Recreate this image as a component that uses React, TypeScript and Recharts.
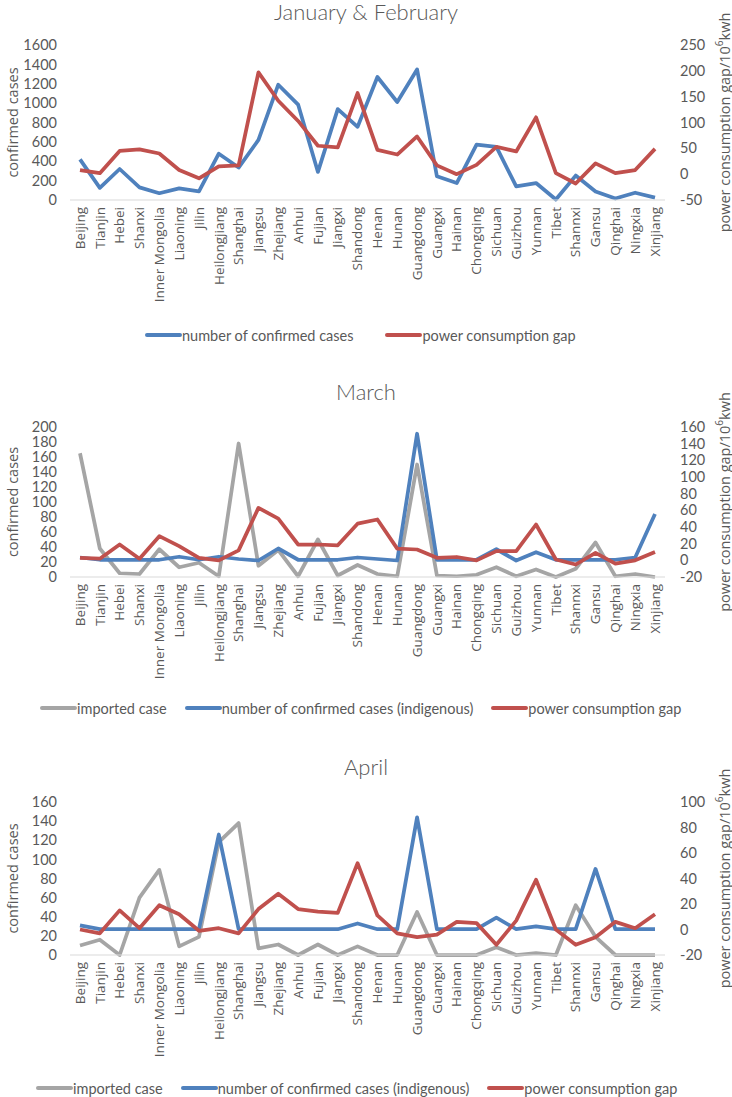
import { LineChart, Line, XAxis, YAxis, Legend, Label } from 'recharts'

// provinces on the category axis (same order in all three panels)
const PROVINCES = [
  'Beijing', 'Tianjin', 'Hebei', 'Shanxi', 'Inner Mongolia', 'Liaoning', 'Jilin',
  'Heilongjiang', 'Shanghai', 'Jiangsu', 'Zhejiang', 'Anhui', 'Fujian', 'Jiangxi',
  'Shandong', 'Henan', 'Hunan', 'Guangdong', 'Guangxi', 'Hainan', 'Chongqing',
  'Sichuan', 'Guizhou', 'Yunnan', 'Tibet', 'Shannxi', 'Gansu', 'Qinghai', 'Ningxia',
  'Xinjiang',
]

// January & February
const JAN_FEB_CASES = [420, 125, 320, 130, 70, 120, 90, 478, 335, 620, 1190, 985, 290, 938, 755, 1270, 1012, 1348, 245, 175, 572, 548, 140, 175, 5, 252, 88, 15, 75, 25]
const JAN_FEB_GAP = [8, 2, 45, 48, 40, 8, -8, 15, 17, 197, 142, 103, 55, 52, 157, 47, 38, 73, 17, 0, 18, 53, 44, 110, 2, -18, 21, 2, 8, 49]

// March
const MAR_IMPORTED = [165, 38, 5, 4, 37, 13, 19, 1, 178, 15, 36, 1, 50, 2, 16, 4, 1, 150, 2, 1, 3, 13, 1, 10, 0, 11, 46, 1, 4, 0]
const MAR_INDIGENOUS = [26, 23, 23, 23, 23, 27, 23, 27, 24, 22, 38, 23, 23, 23, 26, 24, 22, 191, 23, 23, 23, 37, 22, 33, 23, 23, 23, 23, 26, 84]
const MAR_GAP = [3, 2, 19, 2, 29, 17, 3, 0, 12, 63, 50, 19, 19, 18, 44, 49, 14, 13, 3, 4, 0, 11, 11, 43, 1, -5, 9, -4, 0, 10]

// April
const APR_IMPORTED = [10, 16, 0, 60, 89, 9, 19, 118, 138, 7, 11, 0, 11, 0, 9, 0, 0, 45, 0, 0, 0, 8, 0, 2, 0, 52, 19, 0, 0, 0]
const APR_INDIGENOUS = [31, 27, 27, 27, 27, 27, 27, 126, 27, 27, 27, 27, 27, 27, 33, 27, 27, 144, 27, 27, 27, 39, 27, 30, 27, 27, 90, 27, 27, 27]
const APR_GAP = [0, -3, 15, 1, 19, 12, -1, 1, -3, 16, 28, 16, 14, 13, 52, 11, -3, -6, -4, 6, 5, -12, 7, 39, 0, -12, -6, 6, 1, 12]

// axis ticks
const JAN_FEB_LEFT_TICKS = [0, 200, 400, 600, 800, 1000, 1200, 1400, 1600]
const JAN_FEB_RIGHT_TICKS = [-50, 0, 50, 100, 150, 200, 250]
const MAR_LEFT_TICKS = [0, 20, 40, 60, 80, 100, 120, 140, 160, 180, 200]
const MAR_RIGHT_TICKS = [-20, 0, 20, 40, 60, 80, 100, 120, 140, 160]
const APR_LEFT_TICKS = [0, 20, 40, 60, 80, 100, 120, 140, 160]
const APR_RIGHT_TICKS = [-20, 0, 20, 40, 60, 80, 100]

const TEXT = '#595959'
const BLUE = '#4F81BD'
const RED = '#C0504D'
const GRAY = '#A5A5A5'
const FONT_UI = "Lato, 'Open Sans', sans-serif"
const FONT_CAT = "'Open Sans', sans-serif"

interface SeriesDef {
  key: string
  name: string
  color: string
  axis: 'left' | 'right'
}

const janFebRows = PROVINCES.map((p, i) => ({ province: p, cases: JAN_FEB_CASES[i], gap: JAN_FEB_GAP[i] }))
const marRows = PROVINCES.map((p, i) => ({ province: p, imported: MAR_IMPORTED[i], indigenous: MAR_INDIGENOUS[i], gap: MAR_GAP[i] }))
const aprRows = PROVINCES.map((p, i) => ({ province: p, imported: APR_IMPORTED[i], indigenous: APR_INDIGENOUS[i], gap: APR_GAP[i] }))

const janFebSeries: SeriesDef[] = [
  { key: 'cases', name: 'number of confirmed cases', color: BLUE, axis: 'left' },
  { key: 'gap', name: 'power consumption gap', color: RED, axis: 'right' },
]
const laterSeries: SeriesDef[] = [
  { key: 'imported', name: 'imported case', color: GRAY, axis: 'left' },
  { key: 'indigenous', name: 'number of confirmed cases (indigenous)', color: BLUE, axis: 'left' },
  { key: 'gap', name: 'power consumption gap', color: RED, axis: 'right' },
]

function CategoryTick({ x, y, payload }: any) {
  return (
    <g transform={`translate(${x},${y})`}>
      <text
        transform="rotate(-90)"
        x={-5}
        y={0}
        dy="0.35em"
        textAnchor="end"
        fill={TEXT}
        fontSize={13.5}
        fontFamily={FONT_CAT}
      >
        {payload.value}
      </text>
    </g>
  )
}

const leftTitle = ({ viewBox }: any) => {
  const cx = viewBox.x + 12
  const cy = viewBox.y + viewBox.height / 2
  return (
    <text
      x={cx}
      y={cy}
      transform={`rotate(-90 ${cx} ${cy})`}
      textAnchor="middle"
      dominantBaseline="central"
      fill={TEXT}
      fontSize={14.5}
      fontFamily={FONT_CAT}
    >
      confirmed cases
    </text>
  )
}

const rightTitle = ({ viewBox }: any) => {
  const cx = viewBox.x + viewBox.width - 8
  const cy = viewBox.y + viewBox.height / 2
  return (
    <text
      x={cx}
      y={cy}
      transform={`rotate(-90 ${cx} ${cy})`}
      textAnchor="middle"
      dominantBaseline="central"
      fill={TEXT}
      fontSize={14.5}
      fontFamily={FONT_CAT}
    >
      power consumption gap/10
      <tspan dy={-5} fontSize={10}>6</tspan>
      <tspan dy={5}>kwh</tspan>
    </text>
  )
}

function LegendRow({ items, start, gap }: { items: SeriesDef[]; start: number; gap: number }) {
  return (
    <div
      style={{
        display: 'flex',
        alignItems: 'center',
        paddingLeft: start,
        height: 20,
        fontFamily: FONT_UI,
        fontSize: 14.5,
        color: TEXT,
        whiteSpace: 'nowrap',
      }}
    >
      {items.map((s, i) => (
        <div key={s.key} style={{ display: 'flex', alignItems: 'center', marginLeft: i ? gap : 0 }}>
          <span style={{ display: 'inline-block', width: 37, height: 4, borderRadius: 2, background: s.color }} />
          <span>{s.name}</span>
        </div>
      ))}
    </div>
  )
}

interface PanelProps {
  title: string
  top: number
  height: number
  titleY: number
  plotTop: number
  plotBottom: number
  legendY: number
  legendStart: number
  legendGap: number
  rows: Record<string, string | number>[]
  series: SeriesDef[]
  leftTicks: number[]
  rightTicks: number[]
}

function Panel({
  title, top, height, titleY, plotTop, plotBottom, legendY, legendStart, legendGap,
  rows, series, leftTicks, rightTicks,
}: PanelProps) {
  const tickStyle = { fill: TEXT, fontSize: 14.5, fontFamily: FONT_UI }
  return (
    <div style={{ position: 'absolute', left: 0, top, width: 732, height }}>
      <div
        style={{
          position: 'absolute',
          left: 0,
          top: titleY - 14,
          width: 732,
          textAlign: 'center',
          fontFamily: FONT_UI,
          fontSize: 22,
          fontWeight: 300,
          lineHeight: '28px',
          color: TEXT,
        }}
      >
        {title}
      </div>
      <LineChart width={732} height={height} data={rows} margin={{ top: plotTop, right: 0, bottom: 0, left: 0 }}>
        <XAxis
          dataKey="province"
          interval={0}
          tick={<CategoryTick />}
          tickLine={false}
          tickSize={0}
          axisLine={{ stroke: '#D9D9D9' }}
          height={height - plotBottom}
          padding={{ left: 10, right: 10 }}
        />
        <YAxis
          yAxisId="left"
          orientation="left"
          width={70}
          domain={[leftTicks[0], leftTicks[leftTicks.length - 1]]}
          ticks={leftTicks}
          interval={0}
          axisLine={false}
          tickLine={false}
          tickMargin={7}
          tick={tickStyle}
          label={<Label content={leftTitle} />}
        />
        <YAxis
          yAxisId="right"
          orientation="right"
          width={67}
          domain={[rightTicks[0], rightTicks[rightTicks.length - 1]]}
          ticks={rightTicks}
          interval={0}
          axisLine={false}
          tickLine={false}
          tickMargin={9}
          tick={{ ...tickStyle, textAnchor: 'start' }}
          label={<Label content={rightTitle} />}
        />
        <Legend
          layout="horizontal"
          align="center"
          verticalAlign="middle"
          wrapperStyle={{ left: 0, top: legendY - 10, width: 732, height: 20 }}
          content={() => <LegendRow items={series} start={legendStart} gap={legendGap} />}
        />
        {series.map((s) => (
          <Line
            key={s.key}
            yAxisId={s.axis}
            dataKey={s.key}
            name={s.name}
            type="linear"
            stroke={s.color}
            strokeWidth={3.75}
            strokeLinejoin="round"
            dot={false}
            activeDot={false}
            isAnimationActive={false}
          />
        ))}
      </LineChart>
    </div>
  )
}

export default function App() {
  return (
    <div style={{ position: 'relative', width: 732, height: 1097, background: '#fff' }}>
      <style>{'body{margin:0}'}</style>
      <Panel
        title="January & February"
        top={0}
        height={352}
        titleY={12}
        plotTop={45}
        plotBottom={200}
        legendY={335}
        legendStart={145}
        legendGap={32}
        rows={janFebRows}
        series={janFebSeries}
        leftTicks={JAN_FEB_LEFT_TICKS}
        rightTicks={JAN_FEB_RIGHT_TICKS}
      />
      <Panel
        title="March"
        top={370}
        height={352}
        titleY={22}
        plotTop={57}
        plotBottom={207}
        legendY={338}
        legendStart={40}
        legendGap={18}
        rows={marRows}
        series={laterSeries}
        leftTicks={MAR_LEFT_TICKS}
        rightTicks={MAR_RIGHT_TICKS}
      />
      <Panel
        title="April"
        top={745}
        height={352}
        titleY={22}
        plotTop={57}
        plotBottom={210}
        legendY={343}
        legendStart={36}
        legendGap={18}
        rows={aprRows}
        series={laterSeries}
        leftTicks={APR_LEFT_TICKS}
        rightTicks={APR_RIGHT_TICKS}
      />
    </div>
  )
}
